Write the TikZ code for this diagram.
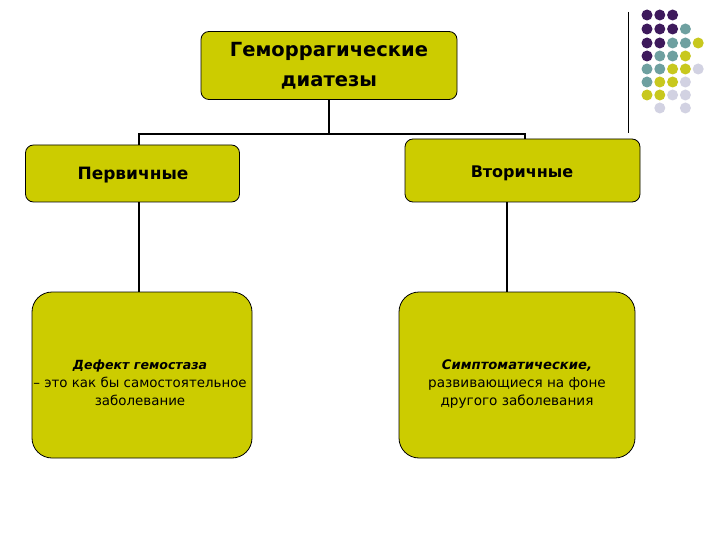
\documentclass[tikz,border=0pt]{standalone}
\usepackage{fontspec}
\setmainfont{DejaVu Sans}
\definecolor{boxfill}{RGB}{204,204,0}
\definecolor{dotP}{RGB}{62,26,92}
\definecolor{dotT}{RGB}{110,160,160}
\definecolor{dotY}{RGB}{200,200,30}
\definecolor{dotL}{RGB}{210,210,226}
\begin{document}
\begin{tikzpicture}[x=1pt,y=-1pt,
  box/.style={draw=black,line width=0.8pt,fill=boxfill,rounded corners=8pt,inner sep=0pt},
  bigbox/.style={draw=black,line width=0.8pt,fill=boxfill,rounded corners=20pt,inner sep=0pt},
  conn/.style={draw=black,line width=1.8pt},
  dot/.style={circle,inner sep=0pt,minimum size=11pt}]
\useasboundingbox[fill=white] (0,0) rectangle (720,540);
% top box
\node[box,minimum width=256pt,minimum height=68pt,align=center,
  font=\fontsize{19.5}{30}\selectfont\bfseries] (top) at (329,65.5) {Геморрагические\\ диатезы};
\node[box,minimum width=214pt,minimum height=57pt,font=\fontsize{17}{20}\selectfont\bfseries] (left) at (132.5,173.5) {};
\node[font=\fontsize{17}{20}\selectfont\bfseries] (leftt) at (133,175) {Первичные};
\node[box,minimum width=235pt,minimum height=63pt] (right) at (522.5,170.5) {};
\node[font=\fontsize{16}{20}\selectfont\bfseries] (rightt) at (522,173) {Вторичные};
\node[bigbox,minimum width=220pt,minimum height=166pt] (bl) at (142,375) {};
\node[bigbox,minimum width=236pt,minimum height=166pt] (br) at (517,375) {};
\node[align=center,font=\fontsize{13.4}{17.8}\selectfont] (blt) at (140,383)
  {{\fontsize{12.6}{17.8}\selectfont\bfseries\itshape Дефект гемостаза}\\– это как бы самостоятельное\\заболевание};
\node[align=center,font=\fontsize{13.6}{17.8}\selectfont] (brt) at (517,384)
  {{\fontsize{13.2}{17.8}\selectfont\bfseries\itshape Симптоматические,}\\развивающиеся на фоне\\другого заболевания};
% connectors
\coordinate (busL) at (139,134);
\coordinate (busR) at (525,134);
\coordinate (rv) at (507,0);
\draw[conn] (top.south) -- (top.south |- busL);
\draw[conn] (busL |- left.north) -- (busL) -- (busR) -- (busR |- right.north);
\draw[conn] (left.south -| busL) -- (busL |- bl.north);
\draw[conn] (right.south -| rv) -- (rv |- br.north);
% decoration
\coordinate (vt) at (628,12);
\coordinate (vb) at (628,133);
\draw[black,line width=1pt] (vt) -- (vb);
\foreach \r/\y/\list in {1/15/{P,P,P},2/29/{P,P,P,T},3/43/{P,P,T,T,Y},4/56/{P,T,T,Y},
  5/69/{T,T,Y,Y,L},6/82/{T,Y,Y,L},7/95/{Y,Y,L,L}}{
  \foreach \c [count=\i] in \list {
    \node[dot,fill=dot\c] (d\r-\i) at ({647+12.8*(\i-1)},\y) {};
  }
}
\node[dot,fill=dotL] (d8-2) at (659.8,108) {};
\node[dot,fill=dotL] (d8-4) at (685.4,108) {};
\end{tikzpicture}
\end{document}
